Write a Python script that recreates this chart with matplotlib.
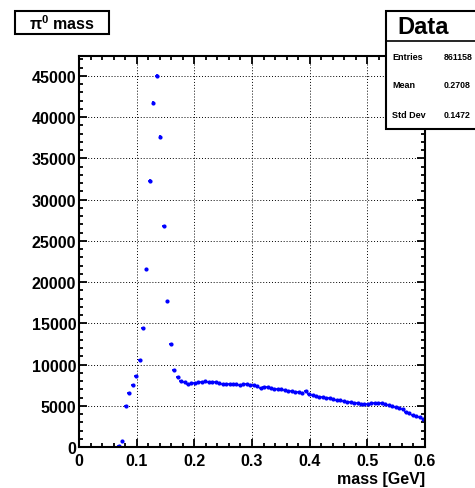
"""
pi0 mass histogram, ROOT-like style (markers with x error bars, stats box)
"""
import numpy as np
import matplotlib
matplotlib.use("Agg")
import matplotlib.pyplot as plt
from matplotlib.patches import Rectangle
from matplotlib.ticker import MultipleLocator

plt.rcParams["font.family"] = ["Liberation Sans", "DejaVu Sans"]
plt.rcParams["font.weight"] = "bold"
plt.rcParams["mathtext.fontset"] = "custom"
plt.rcParams["mathtext.bf"] = "Liberation Sans:bold"
plt.rcParams["mathtext.rm"] = "Liberation Sans:bold"

# histogram: 100 bins of 0.006 GeV from 0 to 0.6, only filled bins listed
bin_width = 0.006
first_bin = 11  # centre 0.069
counts = [
    100, 730, 4950, 6580, 7460, 8620, 10560, 14470, 21600, 32300,
    41700, 45000, 37640, 26770, 17650, 12470, 9370, 8540, 7990, 7830,
    7600, 7800, 7810, 7820, 7830, 8010, 7940, 7920, 7850, 7720,
    7680, 7690, 7680, 7670, 7660, 7480, 7620, 7600, 7530, 7500,
    7420, 7170, 7250, 7290, 7150, 7060, 7030, 7000, 6900, 6800,
    6760, 6700, 6680, 6600, 6780, 6380, 6300, 6200, 6120, 6030,
    5950, 5880, 5800, 5730, 5640, 5580, 5480, 5420, 5380, 5300,
    5260, 5240, 5220, 5350, 5380, 5350, 5300, 5180, 5100, 5020,
    4900, 4780, 4560, 4300, 4100, 3880, 3720, 3600, 3420,
]
centres = [(first_bin + i + 0.5) * bin_width for i in range(len(counts))]

stats_title = "Data"
stats_labels = ["Entries", "Mean", "Std Dev"]
stats_values = ["861158", "0.2708", "0.1472"]
hist_title = r"π$^{\mathbf{0}}$ mass"
x_label = "mass [GeV]"

W, H = 475, 489
fig = plt.figure(figsize=(W / 100, H / 100), dpi=100)
ax = fig.add_axes([79 / W, 1 - 448 / H, (425 - 79) / W, (448 - 57) / H])

x = np.array(centres)
y = np.array(counts, dtype=float)
ax.errorbar(x, y, xerr=bin_width / 2, yerr=np.sqrt(y), fmt="o", ms=2.0,
            color="#0000ff", mec="#0000ff", elinewidth=1.2, capsize=0)

ax.set_xlim(0, 0.6)
ax.set_ylim(0, 47400)
ax.xaxis.set_major_locator(MultipleLocator(0.1))
ax.xaxis.set_minor_locator(MultipleLocator(0.02))
ax.yaxis.set_major_locator(MultipleLocator(5000))
ax.yaxis.set_minor_locator(MultipleLocator(1000))
ax.set_xticks(np.arange(0, 0.61, 0.1))
ax.set_xticklabels(["0", "0.1", "0.2", "0.3", "0.4", "0.5", "0.6"])
ax.tick_params(which="both", direction="in", top=True, right=True,
               labelsize=11.5, width=1.3)
ax.tick_params(which="major", length=6)
ax.tick_params(which="minor", length=3)
ax.tick_params(axis="y", pad=2)
ax.tick_params(axis="x", pad=4)
for lab in ax.get_xticklabels() + ax.get_yticklabels():
    lab.set_fontweight("bold")
for s in ax.spines.values():
    s.set_linewidth(1.5)
ax.grid(True, which="major", color="black", linestyle=(0, (1, 2)), linewidth=0.7)

fig.text(425 / W, 1 - 480 / H, x_label, ha="right", va="center",
         fontsize=11.5, fontweight="bold")

# title box
fig.patches.append(Rectangle((15 / W, 1 - 35 / H), 94 / W, 23 / H,
                             transform=fig.transFigure, fill=True, fc="white",
                             ec="black", lw=1.5))
fig.text(62 / W, 1 - 23.5 / H, hist_title, ha="center", va="center",
         fontsize=11.5, fontweight="bold")

# stats box
fig.patches.append(Rectangle((386 / W, 1 - 130 / H), 120 / W, 118 / H,
                             transform=fig.transFigure, fill=True, fc="white",
                             ec="black", lw=1.5, zorder=5))
fig.lines.append(plt.Line2D([386 / W, 1], [1 - 42 / H, 1 - 42 / H],
                            transform=fig.transFigure, color="black", lw=1.2,
                            zorder=6))
fig.text(423 / W, 1 - 27 / H, stats_title, ha="center", va="center",
         fontsize=17, fontweight="bold", zorder=7)
for i, (lab, val) in enumerate(zip(stats_labels, stats_values)):
    yy = 1 - (57 + 29 * i) / H
    fig.text(392 / W, yy, lab, ha="left", va="center", fontsize=6.5,
             fontweight="bold", zorder=7)
    fig.text(444 / W, yy, val, ha="left", va="center", fontsize=6.3,
             fontweight="bold", zorder=7)

fig.savefig("out.png", dpi=100)
